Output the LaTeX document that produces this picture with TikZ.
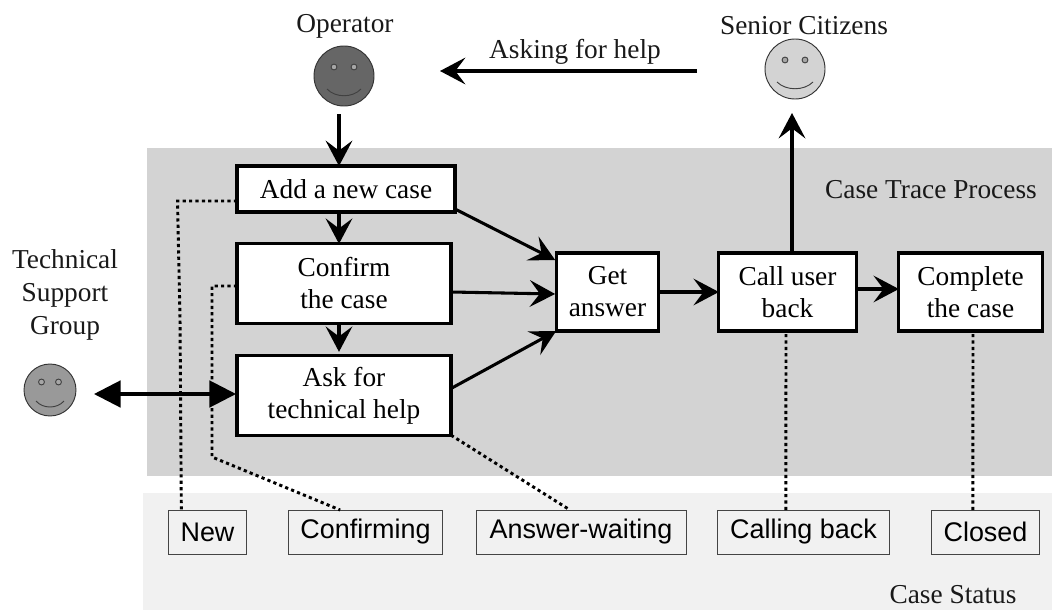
\documentclass[tikz,border=0pt]{standalone}
\usepackage{fontspec}
\setmainfont{Liberation Serif}
\newfontfamily\statusfont{Liberation Sans}
\usetikzlibrary{arrows.meta,calc}
\definecolor{zonedark}{HTML}{D3D3D3}
\definecolor{zonelight}{HTML}{F1F1F1}
\definecolor{statusline}{HTML}{444444}
\definecolor{facelow}{HTML}{666666}
\definecolor{facemid}{HTML}{999999}
\tikzset{
  x=0.75pt,y=-0.75pt,
  zone/.style={fill=#1,draw=none},
  label text/.style={font=\fontsize{20.5}{24}\selectfont,align=center,inner sep=0pt,text=black!90},
  procbox/.style={draw=black,fill=white,line width=2.4pt,outer sep=0pt,inner sep=0pt,align=center,font=\fontsize{20.5}{24}\selectfont},
  statusbox/.style={draw=statusline,line width=0.7pt,outer sep=0pt,inner sep=0pt,minimum height=33pt,font=\statusfont\fontsize{20.2}{24}\selectfont},
  face/.style={circle,draw=black!80,line width=0.7pt,fill=#1,outer sep=0pt,inner sep=0pt},
  feature/.style={draw=black!75,line width=0.7pt},
  flow/.style={line width=2.3pt,-{Stealth[length=19pt,width=20pt,inset=7.5pt]}},
  both/.style={line width=2.3pt,{Triangle[length=20pt,width=20pt]}-{Triangle[length=20pt,width=20pt]}},
  trace/.style={line width=2.2pt,dash pattern=on 2.4pt off 2.4pt},
}
\begin{document}
\begin{tikzpicture}
\useasboundingbox (0,0) rectangle (1052,610);
\fill[white] (0,0) rectangle (1052,610);
\path[zone=zonedark] (147,148) rectangle (1052,476);
\path[zone=zonelight] (143,493) rectangle (1052,610);

% actors
\node[face=facelow,minimum size=45pt] (op) at (344,76) {};
\node[face=zonedark,minimum size=45pt] (sc) at (795,69) {};
\node[face=facemid,minimum size=39pt] (ts) at (50,390) {};
\foreach \n/\ex/\ey/\mx/\my/\md in {op/10/-9/17/13/9, sc/10/-9/18/13/9, ts/8.5/-8/14/11/8}{
  \draw[feature,fill=black!35] ($(\n)+(-\ex,\ey)$) circle (2.2pt);
  \draw[feature,fill=black!35] ($(\n)+(\ex,\ey)$) circle (2.2pt);
  \draw[feature] ($(\n)+(-\mx,\my)$) .. controls ($(\n)+(-\mx/2,\my+\md)$) and ($(\n)+(\mx/2,\my+\md)$) .. ($(\n)+(\mx,\my)$);
}
\node[label text] (oplabel) at (345,26) {Operator};
\node[label text] (sclabel) at (804,26) {Senior Citizens};
\node[label text] (tslabel) at (65,295) {Technical\\[1pt]Support\\[1pt]Group};
\node[label text] (asklabel) at (575,52) {Asking for help};
\node[label text] (ctp) at (931,190) {Case Trace Process};
\node[label text] (cs) at (953,595) {Case Status};

% process boxes
\node[procbox,minimum width=163.5pt,minimum height=34.5pt] (add) at (346,189) {Add a new case};
\node[procbox,minimum width=160.5pt,minimum height=59.5pt] (confirm) at (344,283.5) {Confirm\\the case};
\node[procbox,minimum width=160.5pt,minimum height=59.5pt] (askhelp) at (344,395.5) {Ask for\\technical help};
\node[procbox,minimum width=77pt,minimum height=58.5pt] (get) at (607.5,292) {Get\\answer};
\node[procbox,minimum width=103pt,minimum height=58.5pt] (call) at (787.5,292) {Call user\\back};
\node[procbox,minimum width=107.5pt,minimum height=58.5pt] (complete) at (970.5,292) {Complete\\the case};

% status boxes
\node[statusbox,minimum width=58pt] (new) at (207.5,532) {New};
\node[statusbox,minimum width=116pt] (confirming) at (365.5,532) {Confirming};
\node[statusbox,minimum width=157.5pt] (waiting) at (581,532) {Answer-waiting};
\node[statusbox,minimum width=128.5pt] (calling) at (803.5,532) {Calling back};
\node[statusbox,minimum width=80.5pt] (closed) at (985.5,532) {Closed};

% dotted links to statuses
\coordinate (n1) at (177.5,201);
\coordinate (n2) at (180,318);
\coordinate (c1) at (212,286);
\coordinate (c2) at (212,457);
\draw[trace] ($(add.west)+(0,12)$) -- (n1) -- (n2) -- ($(new.north west)+(12.5,0)$);
\draw[trace] ($(confirm.west)+(0,2.5)$) -- (c1) -- (c2) -- ($(confirming.north west)+(52,0)$);
\draw[trace] (askhelp.south east) -- ($(waiting.north)+(-11,0)$);
\draw[trace] ($(call.south)+(-1.5,3)$) -- ($(calling.north west)+(68,0)$);
\draw[trace] ($(complete.south)+(2.5,3)$) -- ($(closed.north west)+(41,0)$);

% flow arrows
\coordinate (toop) at (697,71);
\draw[flow] (toop) -- ($(op.east)+(66,-5)$);
\draw[flow] ($(op.south)+(-5,8)$) -- ($(add.north)+(-7,0)$);
\draw[flow] ($(add.south)+(-7,0)$) -- ($(confirm.north)+(-5,0)$);
\draw[flow] ($(confirm.south)+(-5,0)$) -- ($(askhelp.north)+(-5,-4)$);
\draw[flow] ($(add.south east)+(0,-3)$) -- ($(get.north west)+(-1,7)$);
\draw[flow] (confirm.east |- get.west) -- ($(get.west)+(-1,2)$);
\draw[flow] ($(askhelp.east)+(0,-7)$) -- (get.south west);
\draw[flow] (get.east) -- (call.west |- get.east);
\draw[flow] ($(call.east)+(0,-3)$) -- ($(complete.west)+(0,-3)$);
\draw[flow] ($(call.north)+(4.5,0)$) -- ($(sc.south)+(-3,14)$);
\draw[both] ($(ts.east)+(18,4)$) -- ($(askhelp.west)+(-1,-1.5)$);
\end{tikzpicture}
\end{document}
